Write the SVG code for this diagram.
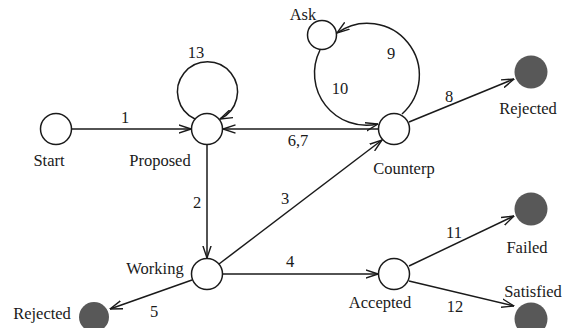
<svg xmlns="http://www.w3.org/2000/svg" width="562" height="328" viewBox="0 0 562 328">
<style>
.st{fill:#fff;stroke:#1a1a1a;stroke-width:1.5}
.fin{fill:#585858;stroke:none}
.e{fill:none;stroke:#1a1a1a;stroke-width:1.5;marker-end:url(#ah)}
text{font-family:"Liberation Serif","Times New Roman",serif;font-size:16.5px;fill:#1a1a1a;text-anchor:middle}
</style>
<defs>
<marker id="ah" viewBox="0 0 13 10" refX="12.5" refY="5" markerWidth="13" markerHeight="10" markerUnits="userSpaceOnUse" orient="auto">
<path d="M0,0.8 L12.5,5 L0,9.2" fill="none" stroke="#1a1a1a" stroke-width="1.4"/>
</marker>
</defs>
<rect width="562" height="328" fill="#fff"/>
<g id="connectors">
<path class="e" d="M72,129 L191,129"/>
<path class="e" d="M195,119 A30 30 0 1 1 220,119"/>
<path class="e" d="M378,129 L223,129"/>
<path class="e" d="M207,145 L207,258"/>
<path class="e" d="M219,264 L382,140"/>
<path class="e" d="M223,274 L378,274"/>
<path class="e" d="M192,280 L110,309"/>
<path class="e" d="M409,122 L514,79"/>
<path class="e" d="M402,114 A52 52 0 0 0 337,33"/>
<path class="e" d="M320,50 A52 52 0 0 0 378,124"/>
<path class="e" d="M409,266 L514,216"/>
<path class="e" d="M409,281 L514,306"/>
<text x="125" y="123">1</text>
<text x="196" y="58">13</text>
<text x="298" y="146">6,7</text>
<text x="197" y="208">2</text>
<text x="285" y="204">3</text>
<text x="290" y="267">4</text>
<text x="154" y="317">5</text>
<text x="449" y="102">8</text>
<text x="391" y="59">9</text>
<text x="340" y="94">10</text>
<text x="454" y="238">11</text>
<text x="455" y="312">12</text>
</g>
<g id="start"><circle class="st" cx="56" cy="129" r="15.5"/><text x="49" y="166">Start</text></g>
<g id="proposed"><circle class="st" cx="207" cy="129" r="15.5"/><text x="160" y="166">Proposed</text></g>
<g id="counterp"><circle class="st" cx="394" cy="129" r="15.5"/><text x="404" y="174">Counterp</text></g>
<g id="ask"><circle class="st" cx="322" cy="35" r="14.5"/><text x="303" y="20">Ask</text></g>
<g id="rejected1"><circle class="fin" cx="531" cy="72" r="16.5"/><text x="528" y="114">Rejected</text></g>
<g id="working"><circle class="st" cx="207" cy="274" r="15.5"/><text x="155" y="274">Working</text></g>
<g id="accepted"><circle class="st" cx="394" cy="274" r="15.5"/><text x="380" y="308">Accepted</text></g>
<g id="failed"><circle class="fin" cx="531" cy="209" r="16.5"/><text x="527" y="253">Failed</text></g>
<g id="satisfied"><circle class="fin" cx="531" cy="319" r="16.5"/><text x="533" y="297">Satisfied</text></g>
<g id="rejected2"><circle class="fin" cx="94" cy="317" r="15"/><text x="42" y="319">Rejected</text></g>
</svg>
